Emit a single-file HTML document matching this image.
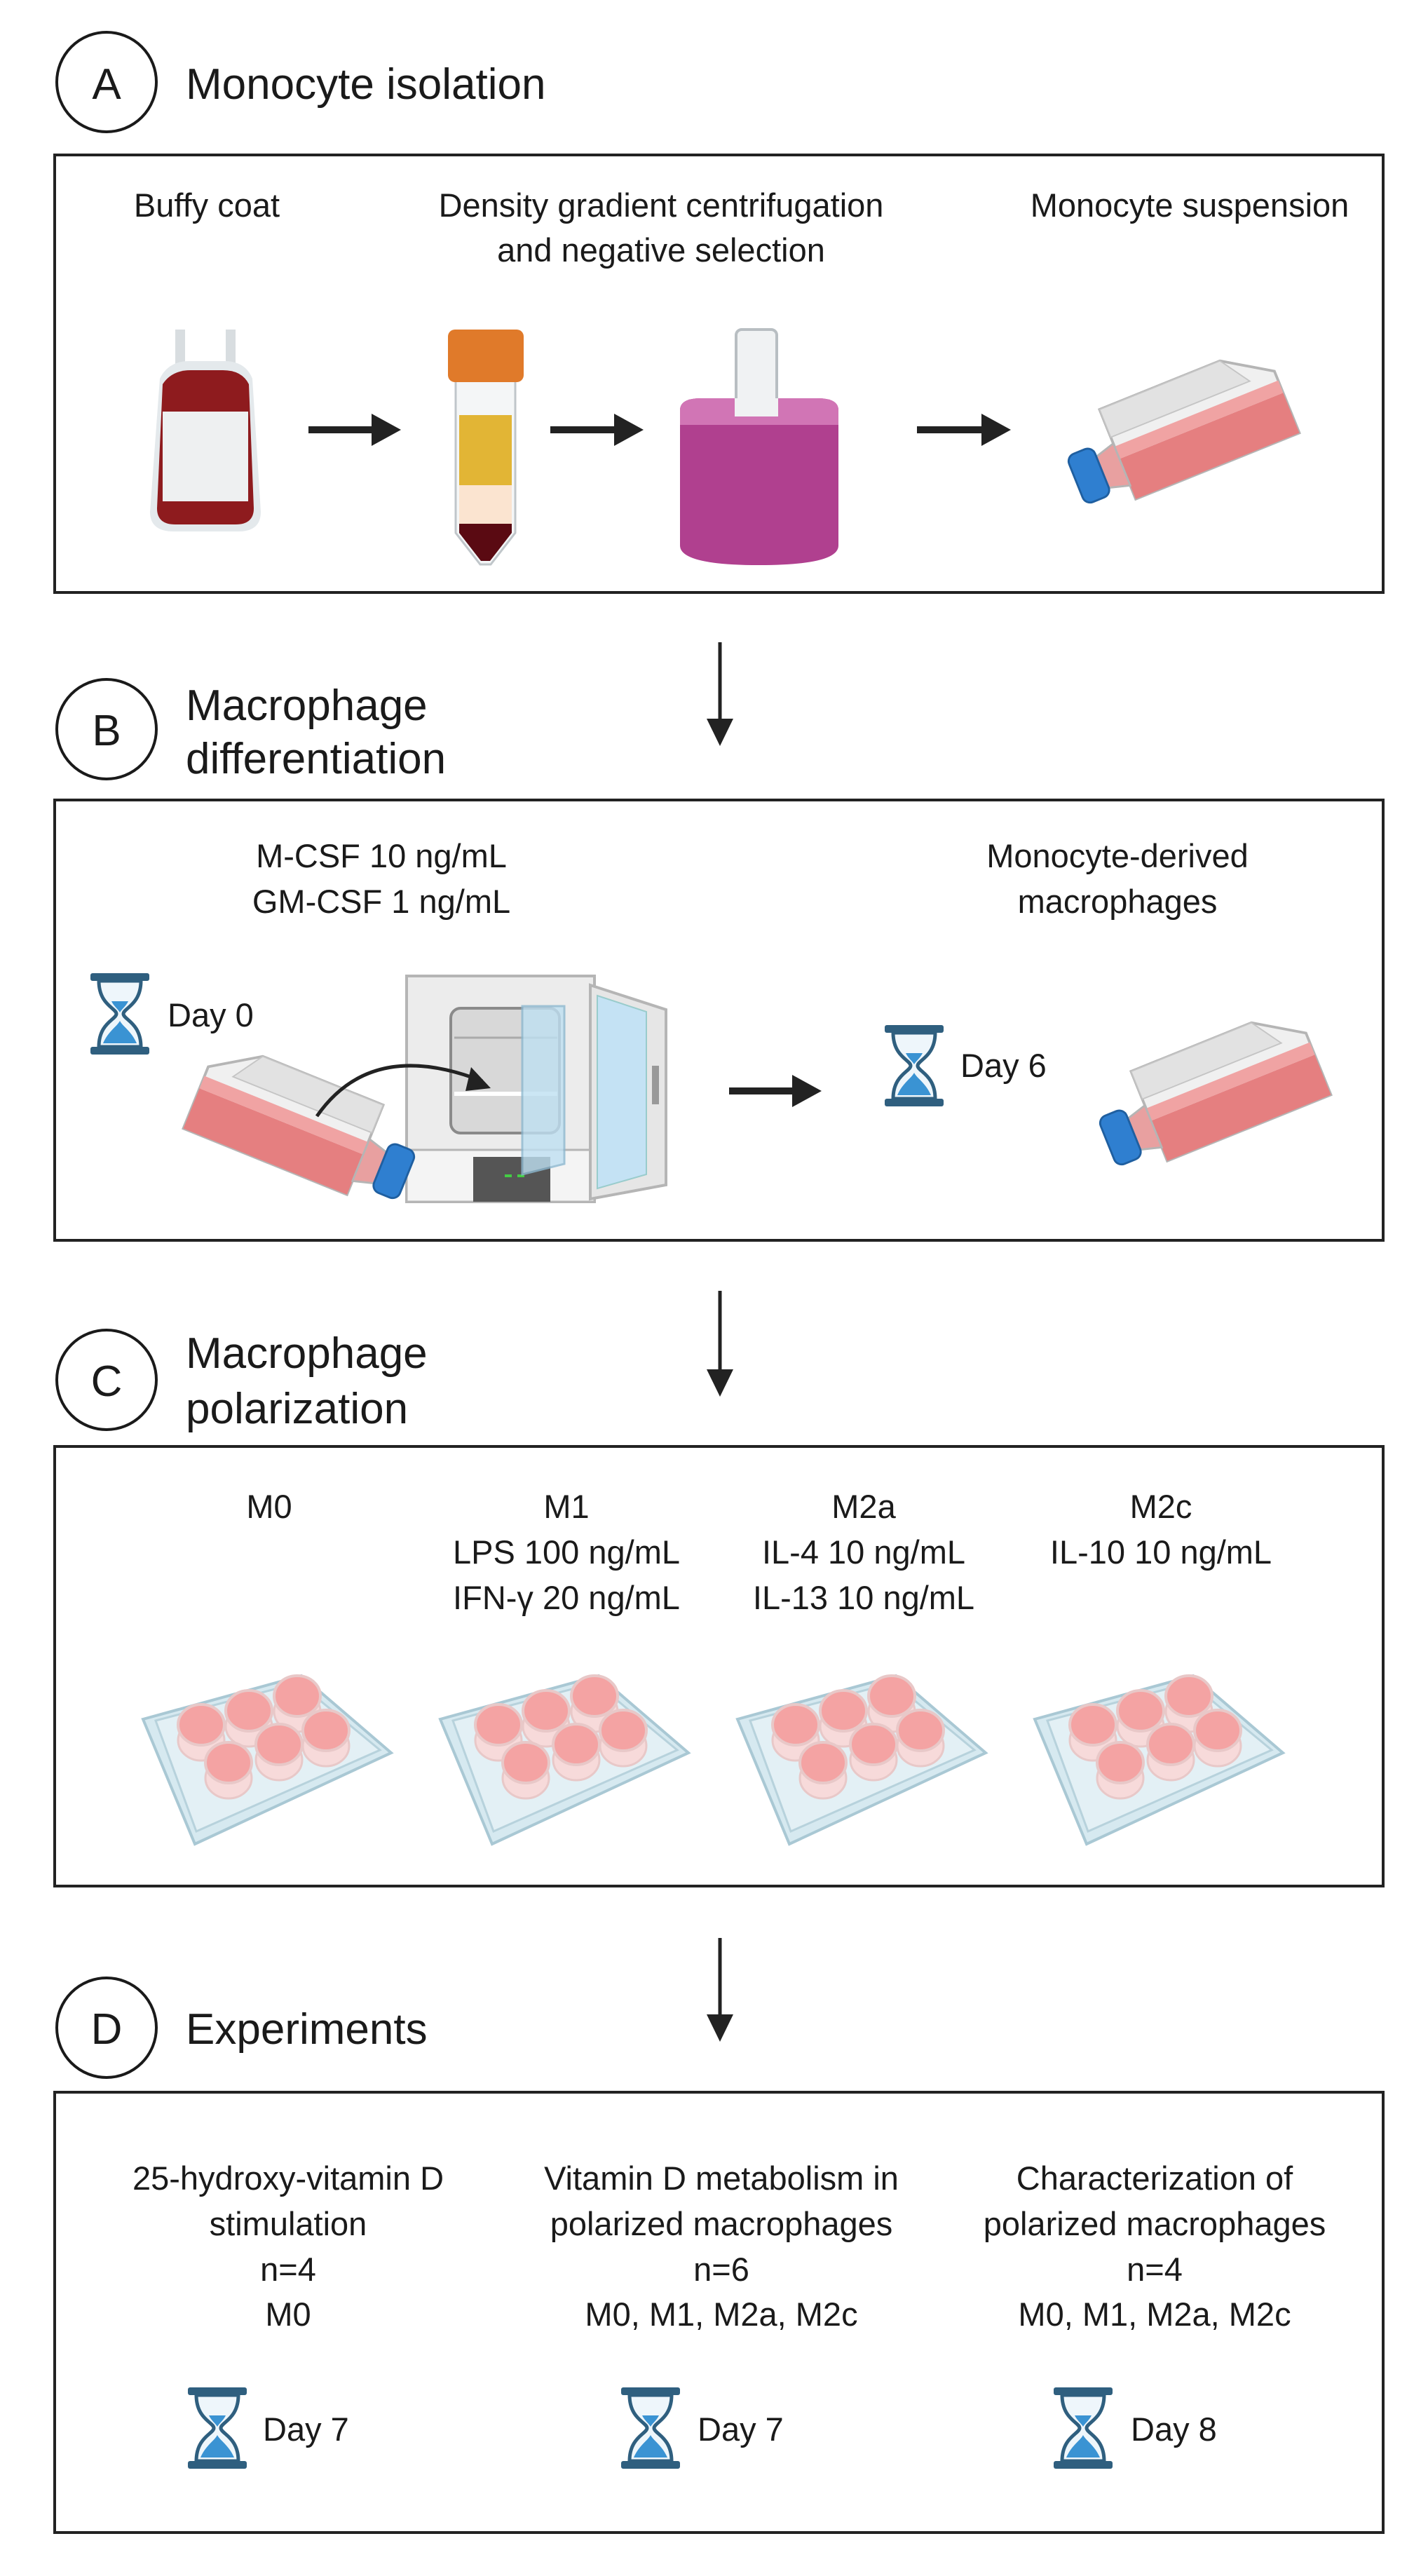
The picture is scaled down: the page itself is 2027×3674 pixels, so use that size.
<!DOCTYPE html>
<html><head><meta charset="utf-8"><style>
html,body{margin:0;padding:0;background:#fff}
svg{display:block}
text{font-family:"Liberation Sans",sans-serif;fill:#1a1a1a}
.t{font-size:62px}
.l{font-size:47px;text-anchor:middle}
.d{font-size:47px}
</style></head><body>
<svg width="2027" height="3674" viewBox="0 0 2027 3674" xmlns="http://www.w3.org/2000/svg">
<defs>
<g id="hg">
<rect x="0" y="0" width="84" height="11" rx="3" fill="#2f5f7f"/>
<rect x="0" y="105" width="84" height="11" rx="3" fill="#2f5f7f"/>
<path d="M12,11 L72,11 C72,45 47,50 47,58 C47,66 72,71 72,105 L12,105 C12,71 37,66 37,58 C37,50 12,45 12,11 Z" fill="#eef6fb" stroke="#2f5f7f" stroke-width="5"/>
<path d="M30,40 L54,40 C50,48 44,52 42,56 C40,52 34,48 30,40 Z" fill="#3a93d3"/>
<path d="M18,100 C26,82 38,76 42,68 C46,76 58,82 66,100 Z" fill="#3a93d3"/>
</g>
<g id="flask">
<polygon points="-115,-85 80,-85 150,-40 150,60 -115,60" fill="#f0f0f0" stroke="#b5b5b5" stroke-width="4"/>
<polygon points="-115,-85 80,-85 110,-40 -115,-40" fill="#e2e2e2" stroke="#c5c5c5" stroke-width="2"/>
<polygon points="-115,-5 150,-5 150,60 -115,60" fill="#e57f80"/>
<polygon points="-115,-25 150,-25 150,-5 -115,-5" fill="#f0a3a3"/>
<polygon points="-115,-30 -150,-20 -150,28 -115,38" fill="#e8a0a0" stroke="#b5b5b5" stroke-width="3"/>
<rect x="-188" y="-38" width="42" height="78" rx="12" fill="#2f7fd0" stroke="#1f5fa0" stroke-width="3"/>
</g>
<g id="plate">
<polygon points="-176,-60 50,-122 178,-12 -102,118" fill="#d6e9f0" stroke="#a9c8d4" stroke-width="4"/>
<polygon points="-158,-58 46,-112 162,-16 -100,100" fill="#e3f0f5" stroke="#b7d2dc" stroke-width="3"/>
<g fill="#f7dada" stroke="#e8c8c8" stroke-width="3">
<ellipse cx="-93" cy="-30" rx="33" ry="29"/>
<ellipse cx="-25" cy="-50" rx="33" ry="29"/>
<ellipse cx="44" cy="-71" rx="33" ry="29"/>
<ellipse cx="-54" cy="24" rx="33" ry="29"/>
<ellipse cx="18" cy="-2" rx="33" ry="29"/>
<ellipse cx="85" cy="-22" rx="33" ry="29"/>
</g>
<g fill="#f4a3a3" stroke="#e8c8c8" stroke-width="4">
<ellipse cx="-93" cy="-52" rx="33" ry="29"/>
<ellipse cx="-25" cy="-72" rx="33" ry="29"/>
<ellipse cx="44" cy="-93" rx="33" ry="29"/>
<ellipse cx="-54" cy="2" rx="33" ry="29"/>
<ellipse cx="18" cy="-24" rx="33" ry="29"/>
<ellipse cx="85" cy="-44" rx="33" ry="29"/>
</g>
</g>
</defs>

<!-- A -->
<circle cx="152" cy="117" r="71" fill="none" stroke="#1a1a1a" stroke-width="4"/>
<text x="152" y="141" class="t" text-anchor="middle">A</text>
<text x="265" y="141" class="t">Monocyte isolation</text>
<rect x="78" y="221" width="1895" height="624" fill="none" stroke="#222" stroke-width="4"/>
<text x="295" y="309" class="l">Buffy coat</text>
<text x="943" y="309" class="l">Density gradient centrifugation</text>
<text x="943" y="373" class="l">and negative selection</text>
<text x="1697" y="309" class="l">Monocyte suspension</text>
<!-- blood bag -->
<rect x="250" y="470" width="14" height="60" fill="#d8dde0"/><rect x="322" y="470" width="14" height="60" fill="#d8dde0"/>
<path d="M228,540 Q240,515 270,515 L320,515 Q350,515 360,540 L372,730 Q372,758 340,758 L248,758 Q214,758 214,730 Z" fill="#e4e9ec"/>
<path d="M232,548 Q245,528 272,528 L318,528 Q345,528 355,548 L362,725 Q362,748 336,748 L250,748 Q224,748 224,725 Z" fill="#8e1b1e"/>
<rect x="232" y="587" width="122" height="128" fill="#eef0f1"/>
<!-- arrows A -->
<g stroke="#222" stroke-width="10" fill="#222">
<line x1="440" y1="613" x2="535" y2="613"/><polygon points="530,590 572,613 530,636" stroke="none"/>
<line x1="785" y1="613" x2="880" y2="613"/><polygon points="876,590 918,613 876,636" stroke="none"/>
<line x1="1308" y1="613" x2="1403" y2="613"/><polygon points="1400,590 1442,613 1400,636" stroke="none"/>
</g>
<!-- tube -->
<path d="M650,540 L735,540 L735,760 L700,805 L685,805 L650,760 Z" fill="#f4f6f7" stroke="#c0c6ca" stroke-width="3"/>
<rect x="655" y="592" width="75" height="100" fill="#e2b535"/>
<rect x="655" y="692" width="75" height="55" fill="#fbe4d0"/>
<path d="M655,747 L730,747 L730,760 L699,800 L686,800 L655,760 Z" fill="#5a0a12"/>
<rect x="639" y="470" width="108" height="75" rx="10" fill="#e07a2a"/>
<!-- magnet -->
<rect x="1050" y="470" width="58" height="130" rx="8" fill="#f0f2f3" stroke="#b8bec2" stroke-width="4"/>
<path d="M970,585 Q970,568 1000,568 L1166,568 Q1196,568 1196,585 L1196,778 Q1196,806 1083,806 Q970,806 970,778 Z" fill="#b0408f"/>
<path d="M970,585 Q970,568 1000,568 L1166,568 Q1196,568 1196,585 L1196,606 L970,606 Z" fill="#d175b5"/>
<rect x="1048" y="568" width="62" height="26" fill="#f0f2f3"/>
<!-- flask A -->
<use href="#flask" transform="translate(1700,618) rotate(-22) scale(0.95)"/>

<!-- arrow A->B -->
<line x1="1027" y1="916" x2="1027" y2="1030" stroke="#222" stroke-width="5"/>
<polygon points="1008,1025 1046,1025 1027,1064" fill="#222"/>

<!-- B -->
<circle cx="152" cy="1040" r="71" fill="none" stroke="#1a1a1a" stroke-width="4"/>
<text x="152" y="1063" class="t" text-anchor="middle">B</text>
<text x="265" y="1027" class="t">Macrophage</text>
<text x="265" y="1103" class="t">differentiation</text>
<rect x="78" y="1141" width="1895" height="628" fill="none" stroke="#222" stroke-width="4"/>
<text x="544" y="1237" class="l">M-CSF 10 ng/mL</text>
<text x="544" y="1302" class="l">GM-CSF 1 ng/mL</text>
<text x="1594" y="1237" class="l">Monocyte-derived</text>
<text x="1594" y="1302" class="l">macrophages</text>
<use href="#hg" x="129" y="1388"/>
<text x="239" y="1464" class="d">Day 0</text>
<!-- incubator -->
<rect x="580" y="1392" width="268" height="322" fill="#ececec" stroke="#b5b5b5" stroke-width="4"/>
<rect x="580" y="1640" width="268" height="74" fill="#f4f4f4" stroke="#b5b5b5" stroke-width="3"/>
<rect x="675" y="1650" width="110" height="64" fill="#555"/>
<rect x="720" y="1675" width="10" height="4" fill="#4c4"/><rect x="738" y="1675" width="10" height="4" fill="#4c4"/>
<rect x="643" y="1438" width="155" height="178" rx="14" fill="#d8d8d8" stroke="#8a8a8a" stroke-width="4"/>
<line x1="648" y1="1480" x2="795" y2="1480" stroke="#aaa" stroke-width="3"/>
<line x1="648" y1="1560" x2="795" y2="1560" stroke="#fff" stroke-width="6"/>
<polygon points="745,1435 805,1435 805,1660 745,1675" fill="#bfe0f2" opacity="0.8" stroke="#8cb8d0" stroke-width="3"/>
<polygon points="842,1405 950,1440 950,1690 842,1710" fill="#e6e6e6" stroke="#b5b5b5" stroke-width="4"/>
<polygon points="852,1420 922,1443 922,1675 852,1695" fill="#c4e2f4" stroke="#9cc" stroke-width="2"/>
<rect x="930" y="1520" width="10" height="55" fill="#999"/>
<!-- flask left -->
<use href="#flask" transform="translate(415,1610) rotate(22) scale(-0.95,0.95)"/>
<path d="M452,1592 Q530,1480 688,1542" fill="none" stroke="#222" stroke-width="5"/>
<polygon points="672,1522 700,1552 664,1556" fill="#222"/>
<g stroke="#222" stroke-width="10" fill="#222">
<line x1="1040" y1="1556" x2="1135" y2="1556"/><polygon points="1130,1533 1172,1556 1130,1579" stroke="none"/>
</g>
<use href="#hg" x="1262" y="1462"/>
<text x="1370" y="1536" class="d">Day 6</text>
<use href="#flask" transform="translate(1745,1562) rotate(-22) scale(0.95)"/>

<!-- arrow B->C -->
<line x1="1027" y1="1841" x2="1027" y2="1958" stroke="#222" stroke-width="5"/>
<polygon points="1008,1953 1046,1953 1027,1992" fill="#222"/>

<!-- C -->
<circle cx="152" cy="1968" r="71" fill="none" stroke="#1a1a1a" stroke-width="4"/>
<text x="152" y="1991" class="t" text-anchor="middle">C</text>
<text x="265" y="1951" class="t">Macrophage</text>
<text x="265" y="2030" class="t">polarization</text>
<rect x="78" y="2063" width="1895" height="627" fill="none" stroke="#222" stroke-width="4"/>
<text x="384" y="2165" class="l">M0</text>
<text x="808" y="2165" class="l">M1</text>
<text x="808" y="2230" class="l">LPS 100 ng/mL</text>
<text x="808" y="2295" class="l">IFN-γ 20 ng/mL</text>
<text x="1232" y="2165" class="l">M2a</text>
<text x="1232" y="2230" class="l">IL-4 10 ng/mL</text>
<text x="1232" y="2295" class="l">IL-13 10 ng/mL</text>
<text x="1656" y="2165" class="l">M2c</text>
<text x="1656" y="2230" class="l">IL-10 10 ng/mL</text>
<use href="#plate" x="380" y="2512"/>
<use href="#plate" x="804" y="2512"/>
<use href="#plate" x="1228" y="2512"/>
<use href="#plate" x="1652" y="2512"/>

<!-- arrow C->D -->
<line x1="1027" y1="2764" x2="1027" y2="2878" stroke="#222" stroke-width="5"/>
<polygon points="1008,2873 1046,2873 1027,2912" fill="#222"/>

<!-- D -->
<circle cx="152" cy="2892" r="71" fill="none" stroke="#1a1a1a" stroke-width="4"/>
<text x="152" y="2915" class="t" text-anchor="middle">D</text>
<text x="265" y="2915" class="t">Experiments</text>
<rect x="78" y="2984" width="1895" height="628" fill="none" stroke="#222" stroke-width="4"/>
<text x="411" y="3123" class="l">25-hydroxy-vitamin D</text>
<text x="411" y="3188" class="l">stimulation</text>
<text x="411" y="3253" class="l">n=4</text>
<text x="411" y="3317" class="l">M0</text>
<text x="1029" y="3123" class="l">Vitamin D metabolism in</text>
<text x="1029" y="3188" class="l">polarized macrophages</text>
<text x="1029" y="3253" class="l">n=6</text>
<text x="1029" y="3317" class="l">M0, M1, M2a, M2c</text>
<text x="1647" y="3123" class="l">Characterization of</text>
<text x="1647" y="3188" class="l">polarized macrophages</text>
<text x="1647" y="3253" class="l">n=4</text>
<text x="1647" y="3317" class="l">M0, M1, M2a, M2c</text>
<use href="#hg" x="268" y="3405"/>
<text x="375" y="3481" class="d">Day 7</text>
<use href="#hg" x="886" y="3405"/>
<text x="995" y="3481" class="d">Day 7</text>
<use href="#hg" x="1503" y="3405"/>
<text x="1613" y="3481" class="d">Day 8</text>
</svg>
</body></html>
